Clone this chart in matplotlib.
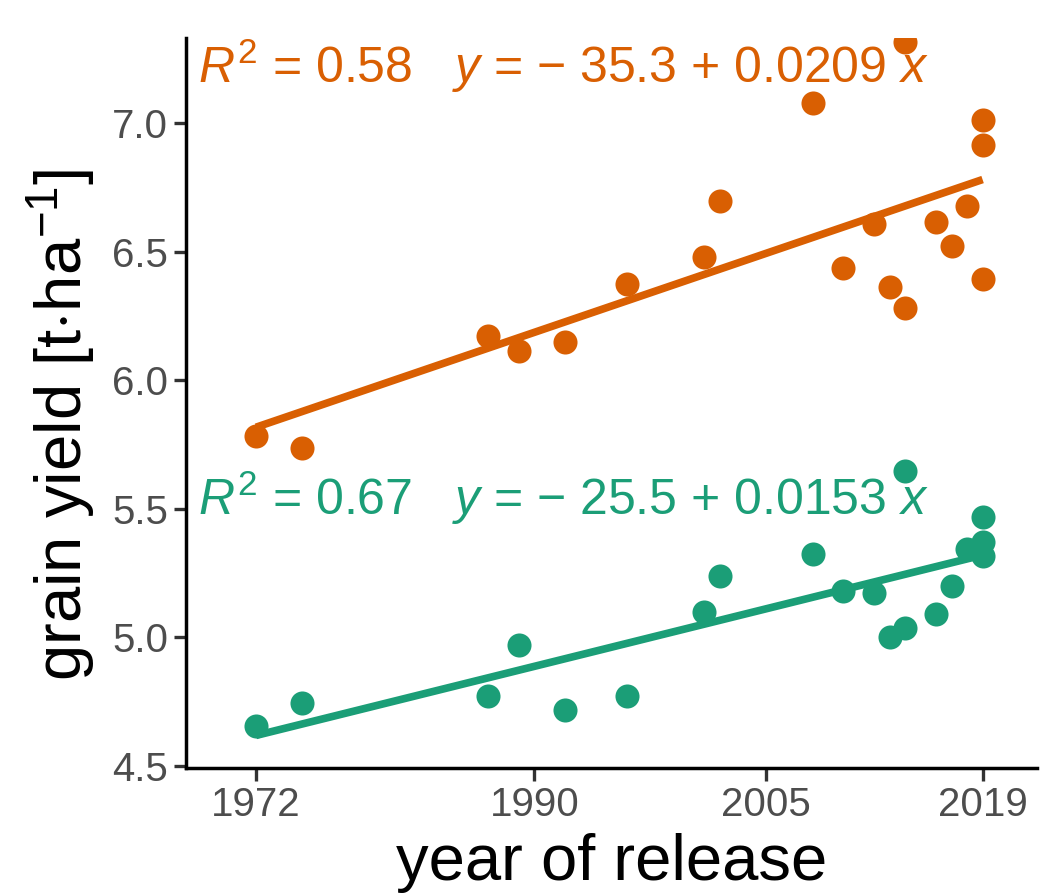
import numpy as np
import matplotlib.pyplot as plt

plt.rcParams['font.family'] = ['Liberation Sans', 'DejaVu Sans']
plt.rcParams['mathtext.fontset'] = 'custom'
plt.rcParams['mathtext.rm'] = 'Liberation Sans'
plt.rcParams['mathtext.it'] = 'Liberation Sans:italic'

# year of release and grain yield for the two groups
years = [1972, 1975, 1987, 1989, 1992, 1996, 2001, 2002, 2008, 2010,
         2012, 2013, 2014, 2014, 2016, 2017, 2018, 2019, 2019, 2019]
yield_orange = [5.783, 5.737, 6.171, 6.115, 6.147, 6.375, 6.480, 6.698, 7.076, 6.435,
                6.609, 6.363, 6.279, 7.316, 6.613, 6.522, 6.679, 7.013, 6.913, 6.395]
yield_green = [4.654, 4.745, 4.773, 4.970, 4.719, 4.773, 5.097, 5.237, 5.324, 5.181,
               5.172, 5.003, 5.038, 5.646, 5.090, 5.198, 5.344, 5.468, 5.370, 5.318]

eq_orange = r"$R^2$ = 0.58   $y$ = − 35.3 + 0.0209 $x$"
eq_green = r"$R^2$ = 0.67   $y$ = − 25.5 + 0.0153 $x$"

x_ticks = [1972, 1990, 2005, 2019]
y_ticks = [4.5, 5.0, 5.5, 6.0, 6.5, 7.0]

orange = '#D95F02'
green = '#1B9E77'

fig = plt.figure(figsize=(10.42, 8.93), dpi=100)
ax = fig.add_axes([0.1785, 0.1396, 0.8164, 0.8178])

yrs = np.array(years)
for vals, col, eq, ypos in [(yield_orange, orange, eq_orange, 0.938),
                            (yield_green, green, eq_green, 0.347)]:
    vals = np.array(vals)
    ax.scatter(yrs, vals, s=300, color=col, linewidths=0, zorder=3)
    # linear fit like geom_smooth(method = "lm")
    coef = np.polyfit(yrs, vals, 1)
    xs = np.array([yrs.min(), yrs.max()])
    ax.plot(xs, np.polyval(coef, xs), color=col, lw=5.5, solid_capstyle='butt', zorder=4)
    ax.text(0.0145, ypos, eq, transform=ax.transAxes, color=col, fontsize=36,
            ha='left', va='baseline')

ax.set_xlim(1967.47, 2022.5)
ax.set_ylim(4.491, 7.33)
ax.set_xticks(x_ticks)
ax.set_yticks(y_ticks)
ax.set_yticklabels(['%.1f' % v for v in y_ticks])

for s in ['top', 'right']:
    ax.spines[s].set_visible(False)
for s in ['left', 'bottom']:
    ax.spines[s].set_linewidth(2.5)
    ax.spines[s].set_color('black')

ax.tick_params(length=9, width=2.4, color='#333333', labelcolor='#4D4D4D',
               labelsize=29, pad=4)

ax.set_xlabel('year of release', fontsize=47, va='top')
ax.set_ylabel(r'grain yield [t$\cdot$ha$^{-1}$]', fontsize=47, va='center')
ax.xaxis.set_label_coords(0.5, -0.088)
ax.yaxis.set_label_coords(-0.147, 0.47)

fig.savefig('out.png', dpi=100)
